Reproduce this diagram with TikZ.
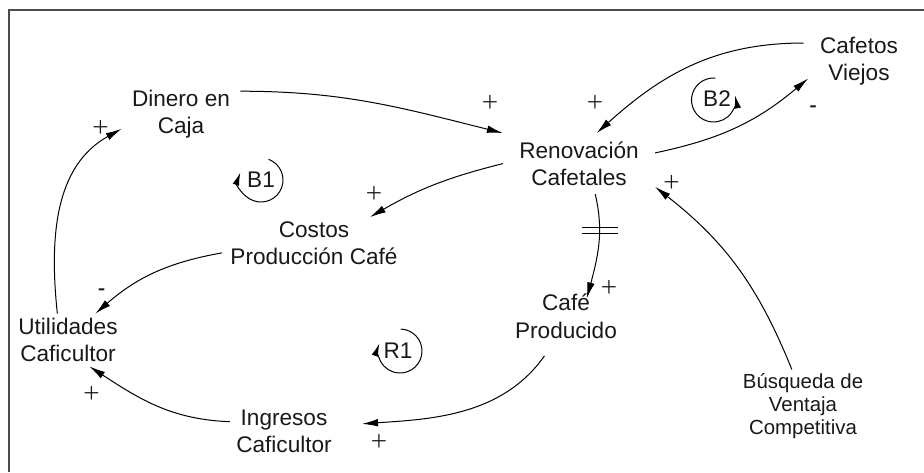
\documentclass[tikz,border=0pt]{standalone}
\usepackage{fontspec}
\setmainfont{Liberation Sans}
\usetikzlibrary{arrows.meta}

\newcommand{\varfont}{\fontsize{11.3}{13.7}\selectfont}
\newcommand{\smallvarfont}{\fontsize{10.2}{11.3}\selectfont}
\newcommand{\signfont}{\fontfamily{lmr}\bfseries\fontsize{10.5}{10.5}\selectfont}

\tikzstyle{var} = [align=center, inner xsep=2pt, inner ysep=2pt, text=black!90, font=\varfont]
\tikzstyle{sign} = [inner sep=0pt, text=black!90, font=\signfont]
\tikzstyle{looplabel} = [inner sep=0pt, text=black!90, font=\varfont]
\tikzstyle{arrow} = [line width=0.5pt, -{Latex[length=8pt,width=3.8pt]}]
\tikzstyle{looparrow} = [line width=0.5pt, -{Latex[length=6.5pt,width=3.4pt]}]
\tikzstyle{frame} = [line width=1pt, black!70]

\begin{document}
\begin{tikzpicture}[x=0.5pt, y=-0.5pt]
\useasboundingbox (0,0) rectangle (924,472);
\draw [frame] (8.5,472) -- (8.5,10) -- (924,10);

% variables
\node (dinero) [var, inner xsep=5pt] at (181,114) {Dinero en\\Caja};
\node (renov) [var, inner xsep=8pt, inner ysep=4pt] at (579,163.6) {Renovación\\Cafetales};
\node (cafetos) [var, inner xsep=8pt] at (859,61) {Cafetos\\Viejos};
\node (costos) [var, inner xsep=4pt] at (314,243.2) {Costos\\Producción Café};
\node (util) [var] at (68,340) {Utilidades\\Caficultor};
\node (cafe) [var] at (566,316.2) {Café\\Producido};
\node (ingresos) [var, inner xsep=3pt] at (284,431.2) {Ingresos\\Caficultor};
\node (busq) [var, font=\smallvarfont] at (803,406) {Búsqueda de\\Ventaja\\Competitiva};

% loops
\node (b1) [looplabel] at (261,180) {B1};
\node (b2) [looplabel] at (717,99) {B2};
\node (r1) [looplabel] at (398,351) {R1};
\draw [looparrow] ([shift={(70:11pt)}]b1.center) arc [start angle=70, end angle=-200, radius=11pt];
\draw [looparrow] ([shift={(-1.75pt,-0.5pt)}, shift={(85:11pt)}]b2.center) arc [start angle=85, end angle=372, radius=11pt];
\draw [looparrow] ([shift={(1pt,0pt)}, shift={(88:11pt)}]r1.center) arc [start angle=88, end angle=-200, radius=11pt];

% links
\draw [arrow] (dinero.21) to [out=0, in=166] (renov.north west);
\draw [arrow] (cafetos.162) to [out=180, in=42] (renov.60);
\draw [arrow, shorten >=-3pt] (renov.8) to [out=12, in=-140] (cafetos.201);
\draw [arrow] (renov.west) to [out=194, in=30] (costos.25);
\draw [arrow] (costos.186) to [out=190, in=41] (util.44);
\draw [arrow] (util.112) to [out=96, in=-151] (dinero.194);
\draw [arrow] (ingresos.170) to [out=178, in=-33] (util.-51);
\draw [arrow, shorten <=8pt, shorten >=12pt] (cafe.-115) to [out=235, in=4] (ingresos.6);
\draw [arrow, shorten >=-4.5pt] (renov.-62) to [out=-77, in=75] coordinate[pos=0.37] (dly) (cafe.49);
\draw [arrow] (busq.107) to [out=112, in=-38] (renov.-17);

% delay mark
\draw [line width=0.5pt] ([xshift=-9pt, yshift=1.3pt]dly) -- ([xshift=9pt, yshift=1.3pt]dly);
\draw [line width=0.5pt] ([xshift=-9pt, yshift=-1.3pt]dly) -- ([xshift=9pt, yshift=-1.3pt]dly);

% polarities
\node (p1) [sign] at (490,102) {+};
\node (p2) [sign] at (595,102) {+};
\node (m1) [sign] at (813.5,109) {-};
\node (p3) [sign] at (374,193) {+};
\node (m2) [sign] at (102,292) {-};
\node (p4) [sign] at (100.5,127) {+};
\node (p5) [sign] at (91.5,393) {+};
\node (p6) [sign] at (379,441) {+};
\node (p7) [sign] at (609,287) {+};
\node (p8) [sign] at (671.5,182) {+};
\end{tikzpicture}
\end{document}
